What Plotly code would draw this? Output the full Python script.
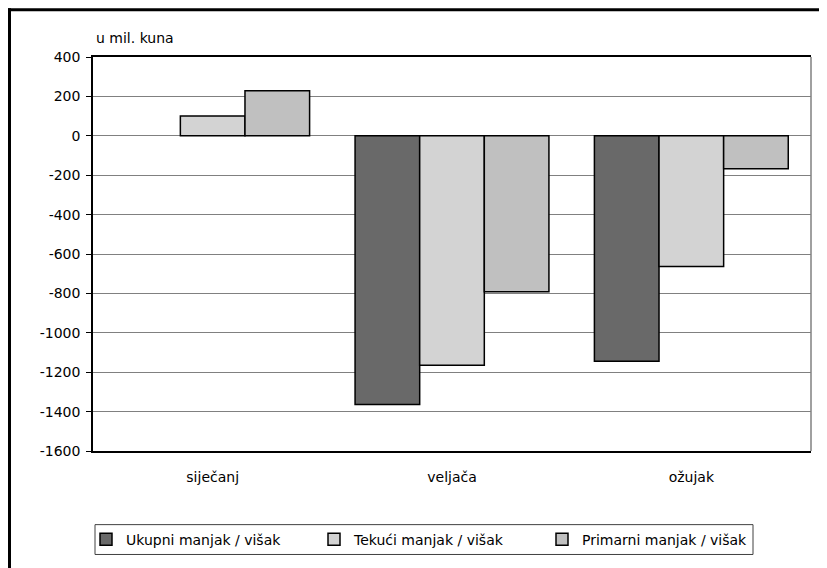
import plotly.graph_objects as go

categories = ["siječanj", "veljača", "ožujak"]
ukupni = [None, -1364, -1144]
tekuci = [101, -1165, -663]
primarni = [229, -791, -167]
series_names = ["Ukupni manjak / višak", "Tekući manjak / višak", "Primarni manjak / višak"]
colors = ["#696969", "#d3d3d3", "#c0c0c0"]
tick_vals = list(range(-1600, 401, 200))

FONT = "DejaVu Sans"
FS = 14

fig = go.Figure()
for name, vals, col in zip(series_names, [ukupni, tekuci, primarni], colors):
    fig.add_trace(go.Bar(
        x=categories, y=vals, name=name,
        marker=dict(color=col, line=dict(color="#000000", width=1.5)),
    ))

# page is offset by the default 8px body margin
OFF = 8
W, H = 827 - OFF, 568 - OFF
L, T = 93 - OFF, 57 - OFF
pw, ph = 718, 396
R = W - L - pw
B = H - T - ph

def px_x(X):
    return (X - OFF - L) / pw

def px_y(Y):
    return (H - B - (Y - OFF)) / ph

shapes = [
    # page frame (top and left)
    dict(type="line", xref="paper", yref="paper", x0=px_x(8), x1=px_x(840), y0=px_y(9.5), y1=px_y(9.5),
         line=dict(color="black", width=3)),
    dict(type="line", xref="paper", yref="paper", x0=px_x(9.5), x1=px_x(9.5), y0=px_y(8), y1=px_y(580),
         line=dict(color="black", width=3)),
    # right border of plot area (gray)
    dict(type="line", xref="paper", yref="paper", x0=1, x1=1, y0=0, y1=1,
         line=dict(color="#808080", width=1.5)),
    # legend box
    dict(type="rect", xref="paper", yref="paper", x0=px_x(95), x1=px_x(753), y0=px_y(527), y1=px_y(557),
         line=dict(color="#404040", width=1), fillcolor="rgba(0,0,0,0)", layer="below"),
]

fig.update_layout(
    width=W, height=H,
    margin=dict(l=L, r=R, t=T, b=B, pad=0),
    paper_bgcolor="white", plot_bgcolor="white",
    font=dict(family=FONT, size=FS, color="black"),
    barmode="group", bargap=0.19, bargroupgap=0,
    showlegend=True,
    legend=dict(
        orientation="h", x=px_x(86), y=px_y(542), xanchor="left", yanchor="middle",
        borderwidth=0, bgcolor="rgba(0,0,0,0)",
        font=dict(family=FONT, size=FS),
        entrywidth=183, entrywidthmode="pixels", itemwidth=30,
        traceorder="normal",
    ),
    xaxis=dict(
        showline=True, linecolor="black", linewidth=1.5, mirror=True,
        ticks="", showgrid=False, zeroline=False,
        ticklabelstandoff=12,
        tickfont=dict(family=FONT, size=FS),
    ),
    yaxis=dict(
        range=[-1600, 400], tickvals=tick_vals, ticktext=[str(v) for v in tick_vals],
        showline=True, linecolor="black", linewidth=1.5,
        ticks="outside", ticklen=5, tickcolor="black", tickwidth=1,
        ticklabelstandoff=3,
        showgrid=True, gridcolor="#808080", gridwidth=1.2,
        zeroline=True, zerolinecolor="#808080", zerolinewidth=1.2,
        tickfont=dict(family=FONT, size=FS),
    ),
    shapes=shapes,
    annotations=[dict(
        text="u mil. kuna", xref="paper", yref="paper", x=px_x(94), y=px_y(38),
        xanchor="left", yanchor="middle", showarrow=False,
        font=dict(family=FONT, size=FS),
    )],
)

fig.write_html("out.html")
